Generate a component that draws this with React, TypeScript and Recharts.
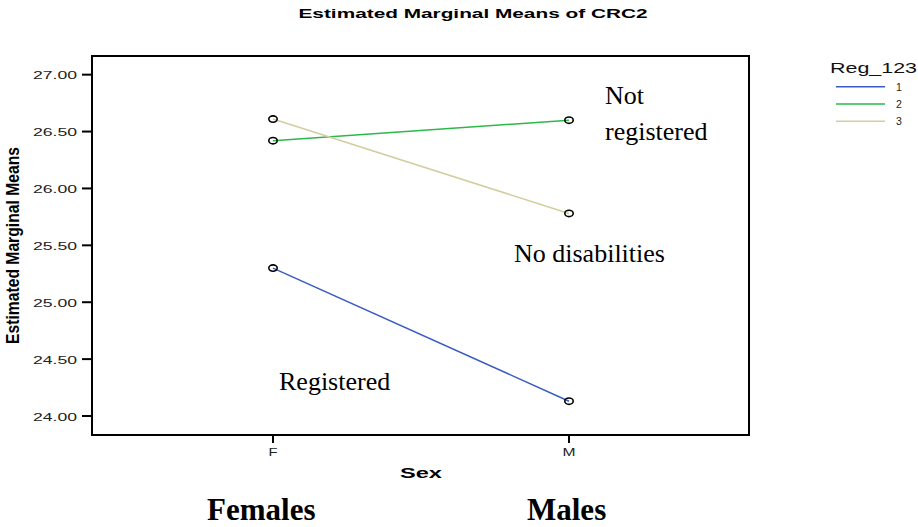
import { Legend, Line, LineChart, XAxis, YAxis } from "recharts";

const sexes = ["F", "M"];
const reg1 = [25.3, 24.13];
const reg2 = [26.42, 26.6];
const reg3 = [26.61, 25.78];
const yTicks = [24, 24.5, 25, 25.5, 26, 26.5, 27];
const yDomain = [23.833, 27.164];

const seriesColors = { reg1: "#3a5bc2", reg2: "#2db84a", reg3: "#d3cd9f" };

const data = sexes.map((sex, i) => ({
  sex,
  reg1: reg1[i],
  reg2: reg2[i],
  reg3: reg3[i]
}));

const sans = "'Liberation Sans', Arial, sans-serif";
const serif = "'Liberation Serif', 'Times New Roman', serif";

function YTick({ x, y, payload }: any) {
  return (
    <text
      x={x}
      y={y + 4.6}
      textAnchor="end"
      fontFamily={sans}
      fontSize={11}
      fill="#222"
      textLength={44}
      lengthAdjust="spacingAndGlyphs"
    >
      {Number(payload.value).toFixed(2)}
    </text>
  );
}

function XTick({ x, y, payload }: any) {
  return (
    <text
      x={x}
      y={y + 11}
      textAnchor="middle"
      fontFamily={sans}
      fontSize={10.5}
      fill="#222"
      textLength={payload.value === "M" ? 13 : 9}
      lengthAdjust="spacingAndGlyphs"
    >
      {payload.value}
    </text>
  );
}

function OpenDot({ cx, cy }: any) {
  if (cx == null || cy == null) return null;
  return <ellipse cx={cx} cy={cy} rx={4.2} ry={3.2} fill="none" stroke="#000" strokeWidth={1.6} />;
}

function LegendBox({ payload }: any) {
  return (
    <svg width={90} height={72}>
      <text
        x={2}
        y={15.3}
        fontFamily={sans}
        fontSize={15}
        fill="#111"
        textLength={87}
        lengthAdjust="spacingAndGlyphs"
      >
        Reg_123
      </text>
      {(payload || []).map((item: any, i: number) => (
        <g key={item.value}>
          <line x1={8} x2={57} y1={28.7 + i * 17.3} y2={28.7 + i * 17.3} stroke={item.color} strokeWidth={1.5} />
          <text x={68} y={32.7 + i * 17.3} fontFamily={sans} fontSize={10.5} fill="#222">
            {item.value}
          </text>
        </g>
      ))}
    </svg>
  );
}

export default function App() {
  return (
    <div style={{ position: "absolute", left: 0, top: 0, width: 918, height: 527, background: "#fff" }}>
      <LineChart width={918} height={527} data={data} margin={{ top: 56, right: 169, bottom: 62, left: 0 }}>
        <XAxis
          dataKey="sex"
          padding={{ left: 181, right: 180 }}
          height={30}
          axisLine={{ stroke: "#000", strokeWidth: 2 }}
          tickLine={{ stroke: "#000", strokeWidth: 2 }}
          tickSize={8}
          tick={<XTick />}
        />
        <YAxis
          type="number"
          domain={yDomain}
          ticks={yTicks}
          allowDataOverflow
          width={92}
          axisLine={{ stroke: "#000", strokeWidth: 2 }}
          tickLine={{ stroke: "#000", strokeWidth: 2 }}
          tickSize={10}
          tickMargin={5}
          tick={<YTick />}
        />
        <Legend
          layout="horizontal"
          verticalAlign="middle"
          align="center"
          content={<LegendBox />}
          wrapperStyle={{ left: 828, top: 58, width: 90, height: 72 }}
        />
        <Line
          dataKey="reg1"
          name="1"
          stroke={seriesColors.reg1}
          strokeWidth={1.5}
          type="linear"
          dot={<OpenDot />}
          activeDot={false}
          isAnimationActive={false}
        />
        <Line
          dataKey="reg2"
          name="2"
          stroke={seriesColors.reg2}
          strokeWidth={1.5}
          type="linear"
          dot={<OpenDot />}
          activeDot={false}
          isAnimationActive={false}
        />
        <Line
          dataKey="reg3"
          name="3"
          stroke={seriesColors.reg3}
          strokeWidth={1.5}
          type="linear"
          dot={<OpenDot />}
          activeDot={false}
          isAnimationActive={false}
        />
      </LineChart>
      <svg
        width={918}
        height={527}
        style={{ position: "absolute", left: 0, top: 0, pointerEvents: "none" }}
      >
        {/* plot frame, same box as the chart margins */}
        <rect x={92} y={56} width={657} height={379} fill="none" stroke="#000" strokeWidth={2} />
        <text
          x={473}
          y={17.5}
          textAnchor="middle"
          fontFamily={sans}
          fontWeight="bold"
          fontSize={13}
          fill="#000"
          textLength={349}
          lengthAdjust="spacingAndGlyphs"
        >
          Estimated Marginal Means of CRC2
        </text>
        <text
          transform="translate(19,245.5) rotate(-90)"
          textAnchor="middle"
          fontFamily={sans}
          fontWeight="bold"
          fontSize={19}
          fill="#000"
          textLength={197}
          lengthAdjust="spacingAndGlyphs"
        >
          Estimated Marginal Means
        </text>
        <text
          x={421}
          y={478}
          textAnchor="middle"
          fontFamily={sans}
          fontWeight="bold"
          fontSize={15}
          fill="#000"
          textLength={42}
          lengthAdjust="spacingAndGlyphs"
        >
          Sex
        </text>
        <text x={605} y={104} fontFamily={serif} fontSize={26} fill="#000">
          Not
        </text>
        <text x={605} y={139.5} fontFamily={serif} fontSize={26} fill="#000">
          registered
        </text>
        <text x={514} y={262} fontFamily={serif} fontSize={26} fill="#000">
          No disabilities
        </text>
        <text x={279} y={390} fontFamily={serif} fontSize={26} fill="#000">
          Registered
        </text>
        <text x={207} y={520} fontFamily={serif} fontWeight="bold" fontSize={31} fill="#000">
          Females
        </text>
        <text x={527} y={520} fontFamily={serif} fontWeight="bold" fontSize={31} fill="#000">
          Males
        </text>
      </svg>
    </div>
  );
}
